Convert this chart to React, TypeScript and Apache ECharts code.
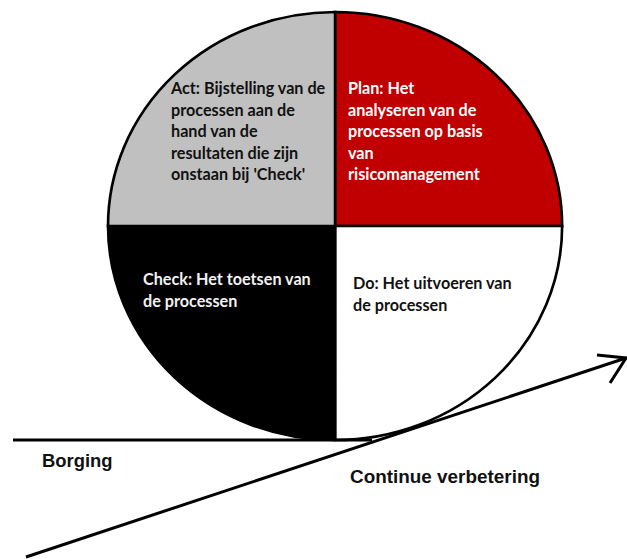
import React, { useEffect, useRef } from "react";
import * as echarts from "echarts";

// ---- data ----
const phases = ["Plan", "Do", "Check", "Act"];
const phaseShares = [1, 1, 1, 1];
const phaseColors = ["#c00000", "#ffffff", "#000000", "#c0c0c0"];
const phaseTexts = [
  "Plan: Het\nanalyseren van de\nprocessen op basis\nvan\nrisicomanagement",
  "Do: Het uitvoeren van\nde processen",
  "Check: Het toetsen van\nde processen",
  "Act: Bijstelling van de\nprocessen aan de\nhand van de\nresultaten die zijn\nonstaan bij 'Check'",
];
const phaseTextColors = ["#ffffff", "#111111", "#f2f2f2", "#111111"];
const axisLabels = ["Borging", "Continue verbetering"];

// ---- layout ----
const CX = 335;
const CY = 226;
const RX = 227;
const RY = 214;
const textPos: [number, number][] = [
  [348, 77],
  [353, 272],
  [143, 268],
  [171, 77],
];

export default function App() {
  const ref = useRef<HTMLDivElement>(null);
  useEffect(() => {
    if (!ref.current) return;
    const chart = echarts.init(ref.current, undefined, { renderer: "svg" });
    const total = phaseShares.reduce((a, b) => a + b, 0);
    const starts: number[] = [];
    let acc = 0;
    phaseShares.forEach((v) => {
      starts.push(acc);
      acc += v;
    });
    const base = -Math.PI / 2;
    chart.setOption({
      animation: false,
      backgroundColor: "#ffffff",
      series: [
        {
          type: "custom",
          coordinateSystem: "none",
          data: phases.map((p, i) => ({ name: p, value: phaseShares[i] })),
          renderItem: (params: any, api: any) => {
            const i = params.dataIndex;
            const v = api.value(0);
            const s = base + (starts[i] / total) * Math.PI * 2;
            const e = s + (v / total) * Math.PI * 2;
            return {
              type: "sector",
              shape: { cx: CX, cy: CY, r: RY, r0: 0, startAngle: s, endAngle: e, clockwise: true },
              scaleX: RX / RY,
              scaleY: 1,
              originX: CX,
              originY: CY,
              style: {
                fill: phaseColors[i],
                stroke: "#000000",
                lineWidth: 2.5,
                strokeNoScale: true,
              },
            };
          },
        },
      ],
      graphic: [
        {
          type: "line",
          shape: { x1: 13, y1: 440, x2: 372, y2: 440 },
          style: { stroke: "#000", lineWidth: 3 },
          z: 10,
        },
        {
          type: "line",
          shape: { x1: 26, y1: 557, x2: 626, y2: 358 },
          style: { stroke: "#000", lineWidth: 3 },
          z: 10,
        },
        {
          type: "polyline",
          shape: { points: [[597, 355], [626, 358], [610, 383]] },
          style: { stroke: "#000", lineWidth: 3, fill: null },
          z: 10,
        },
        ...phaseTexts.map((t, i) => ({
          type: "text",
          x: textPos[i][0],
          y: textPos[i][1],
          z: 20,
          style: {
            text: t,
            fill: phaseTextColors[i],
            font: "bold 16.2px Lato",
            lineHeight: 21.5,
            verticalAlign: "top",
            align: "left",
          },
        })),
        {
          type: "text",
          x: 42,
          y: 460.5,
          z: 20,
          style: {
            text: axisLabels[0],
            fill: "#111",
            font: "bold 18.4px 'Liberation Sans', Arial",
            verticalAlign: "middle",
            align: "left",
          },
        },
        {
          type: "text",
          x: 350,
          y: 476,
          z: 20,
          style: {
            text: axisLabels[1],
            fill: "#111",
            font: "bold 18.9px 'Liberation Sans', Arial",
            verticalAlign: "middle",
            align: "left",
          },
        },
      ],
    });
    return () => chart.dispose();
  }, []);
  return (
    <div
      ref={ref}
      style={{ position: "fixed", left: 0, top: 0, width: 627, height: 559 }}
    />
  );
}
